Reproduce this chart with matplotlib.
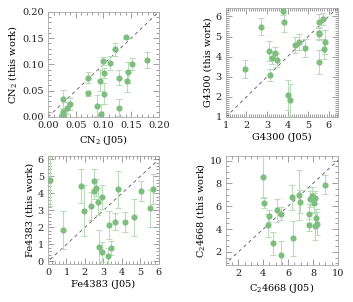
import matplotlib
matplotlib.use("Agg")
import matplotlib.pyplot as plt
from matplotlib.ticker import AutoMinorLocator, MultipleLocator

# CN2
cn2_j05 = [0.027, 0.027, 0.027, 0.027, 0.027, 0.035, 0.039, 0.072, 0.072, 0.088, 0.093, 0.096,
           0.099, 0.101, 0.101, 0.112, 0.121, 0.128, 0.128, 0.141, 0.142, 0.145, 0.151, 0.179]
cn2_this = [0.035, 0.010, 0.006, 0.002, 0.000, 0.017, 0.025, 0.075, 0.045, 0.021, 0.069, 0.005,
            0.106, 0.084, 0.044, 0.103, 0.129, 0.075, 0.018, 0.152, 0.068, 0.085, 0.101, 0.108]
cn2_err = [0.017, 0.006, 0.004, 0.003, 0.002, 0.012, 0.012, 0.010, 0.005, 0.020, 0.020, 0.020,
           0.008, 0.010, 0.020, 0.013, 0.012, 0.015, 0.017, 0.003, 0.020, 0.020, 0.012, 0.015]

# G4300
g_j05 = [1.92, 2.69, 3.10, 3.15, 3.26, 3.37, 3.50, 3.77, 3.82, 4.02, 4.10,
         4.35, 4.55, 4.84, 5.53, 5.55, 5.55, 5.55, 5.71, 5.76, 5.82]
g_this = [3.39, 5.49, 4.28, 3.10, 3.95, 4.18, 3.85, 6.29, 5.70, 2.09, 1.84,
          4.57, 4.74, 4.45, 3.73, 5.70, 5.19, 5.12, 5.87, 4.40, 4.74]
g_err = [0.45, 0.43, 0.50, 0.30, 0.30, 0.30, 0.35, 0.20, 0.45, 0.75, 0.80,
         0.40, 0.40, 0.45, 0.60, 0.40, 0.30, 0.30, 0.30, 0.50, 0.60]

# Fe4383
fe_j05 = [0.13, 0.81, 1.77, 1.95, 2.34, 2.47, 2.49, 2.59, 2.72, 2.76, 2.94,
          2.94, 3.26, 3.30, 3.42, 3.64, 3.77, 4.18, 4.68, 5.05, 5.50, 5.71]
fe_this = [4.78, 1.85, 4.42, 2.98, 3.26, 4.74, 4.15, 4.33, 3.51, 0.84, 3.76,
           0.55, 0.29, 2.14, 0.78, 2.34, 4.23, 2.30, 2.59, 4.13, 3.12, 4.25]
fe_err = [1.5, 1.1, 1.0, 1.5, 0.8, 0.7, 0.5, 0.5, 0.8, 1.0, 0.7,
          0.6, 0.5, 0.8, 0.4, 0.5, 1.1, 0.6, 1.1, 0.6, 1.1, 0.9]

# C2 4668
c2_j05 = [3.96, 4.07, 4.39, 4.44, 4.81, 5.13, 5.40, 5.40, 6.31, 6.41, 6.87,
          6.92, 7.67, 7.72, 7.75, 7.96, 8.07, 8.15, 8.17, 8.25, 8.31, 9.00]
c2_this = [8.56, 6.32, 4.34, 5.16, 2.74, 5.65, 5.36, 1.73, 6.78, 3.18, 6.96,
           6.38, 4.34, 5.36, 6.61, 6.90, 6.29, 6.76, 4.26, 4.98, 4.46, 7.89]
c2_err = [1.8, 0.5, 1.0, 0.5, 1.0, 1.0, 0.6, 1.2, 1.1, 1.5, 2.2,
          1.0, 0.5, 0.8, 0.7, 0.8, 0.9, 0.6, 1.2, 0.8, 1.0, 0.85]

panels = [
    ([0.136, 0.6126, 0.314, 0.348], cn2_j05, cn2_this, cn2_err, (0, 0.2), (0, 0.2),
     0.05, 0.05, 5, 5, r"CN$_2$ (J05)", r"CN$_2$ (this work)", "%.2f"),
    ([0.640, 0.6126, 0.317, 0.361], g_j05, g_this, g_err, (1, 6.45), (1, 6.42),
     1, 1, 10, 10, "G4300 (J05)", "G4300 (this work)", "%d"),
    ([0.136, 0.126, 0.314, 0.358], fe_j05, fe_this, fe_err, (0, 6), (-0.15, 6.2),
     1, 1, 5, 5, "Fe4383 (J05)", "Fe4383 (this work)", "%d"),
    ([0.640, 0.1225, 0.317, 0.361], c2_j05, c2_this, c2_err, (1, 10), (0.85, 10.4),
     2, 2, 4, 4, r"C$_2$4668 (J05)", r"C$_2$4668 (this work)", "%d"),
]

plt.rcParams['font.family'] = ['DejaVu Serif']
plt.rcParams['mathtext.fontset'] = 'dejavuserif'

fig = plt.figure(figsize=(3.53, 3.02), dpi=100)
for pos, x, y, e, xl, yl, xmaj, ymaj, xmin, ymin, xlab, ylab, fmt in panels:
    ax = fig.add_axes(pos)
    lo = min(xl[0], yl[0])
    hi = max(xl[1], yl[1])
    ax.plot([lo, hi], [lo, hi], ls=(0, (4, 4)), color="#555555", lw=0.6)
    ax.errorbar(x, y, yerr=e, fmt="none", ecolor="#b9dcb9", elinewidth=0.8,
                capsize=2.5, capthick=0.8)
    ax.plot(x, y, "o", ms=3.4, color="#7dbd7d", mec="#7dbd7d")
    ax.set_xlim(xl)
    ax.set_ylim(yl)
    ax.xaxis.set_major_locator(MultipleLocator(xmaj))
    ax.yaxis.set_major_locator(MultipleLocator(ymaj))
    ax.xaxis.set_minor_locator(AutoMinorLocator(xmin))
    ax.yaxis.set_minor_locator(AutoMinorLocator(ymin))
    ax.xaxis.set_major_formatter(plt.FormatStrFormatter(fmt))
    ax.yaxis.set_major_formatter(plt.FormatStrFormatter(fmt))
    ax.tick_params(which="both", direction="in", top=True, right=True,
                   colors="#777777", labelcolor="#222222", labelsize=7, width=0.5)
    ax.tick_params(which="major", length=4, pad=3)
    ax.tick_params(which="minor", length=2)
    for s in ax.spines.values():
        s.set_color("#aaaaaa")
        s.set_linewidth(0.6)
    ax.set_xlabel(xlab, fontsize=7, labelpad=2)
    ax.set_ylabel(ylab, fontsize=7, labelpad=2)

fig.savefig("out.png", dpi=100)
